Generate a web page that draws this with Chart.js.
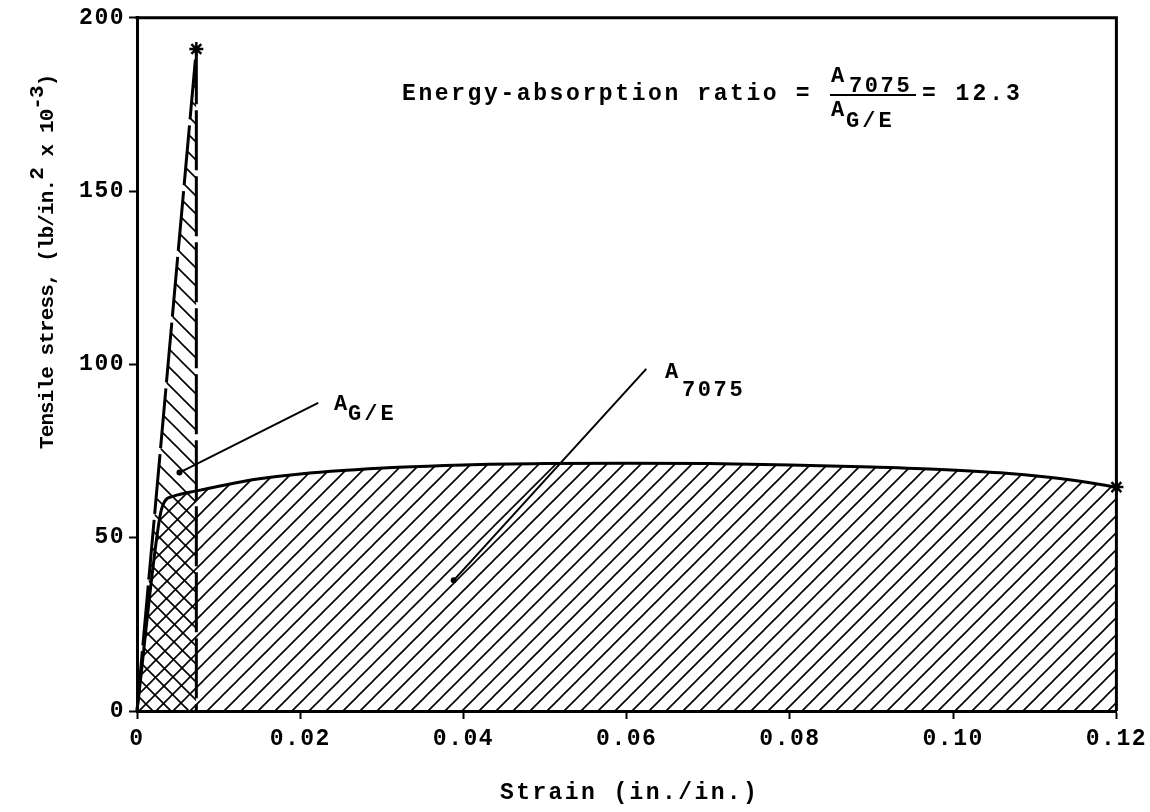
<!DOCTYPE html>
<html>
<head>
<meta charset="utf-8">
<script src="https://cdn.jsdelivr.net/npm/chart.js@4.4.0/dist/chart.umd.min.js"></script>
<style>
    html, body { margin: 0; padding: 0; background: #fff; }
</style>
</head>
<body>
<canvas id="chartStrain" width="1150" height="812"></canvas>
<script>
const xTicks = [0, 0.02, 0.04, 0.06, 0.08, 0.10, 0.12];
const xTickLabels = ['0', '0.02', '0.04', '0.06', '0.08', '0.10', '0.12'];
const yTicks = [0, 50, 100, 150, 200];
const yTickLabels = ['0', '50', '100', '150', '200'];

// aluminium 7075 curve
const strain7075 = [0, 0.0028, 0.0034, 0.0045, 0.0073, 0.012, 0.015, 0.02, 0.032, 0.04, 0.05, 0.06, 0.07, 0.08, 0.09, 0.0985, 0.1065, 0.1147, 0.12];
const stress7075 = [0, 56, 60.5, 62, 63.5, 65.8, 67.0, 68.4, 70.3, 71.0, 71.4, 71.5, 71.4, 71.0, 70.4, 69.7, 68.6, 66.6, 64.6];

// graphite/epoxy
const strainGE = [0, 0.00727, 0.00727];
const stressGE = [0, 191, 0];

const FONT = '"Liberation Mono", "DejaVu Sans Mono", monospace';

function makeHatch(size, dir) {
    const c = document.createElement('canvas');
    c.width = size;
    c.height = size;
    const g = c.getContext('2d');
    g.strokeStyle = '#000';
    g.lineWidth = 1.6;
    g.beginPath();
    if (dir > 0) {
        g.moveTo(-2, size + 2); g.lineTo(size + 2, -2);
        g.moveTo(-2, 2); g.lineTo(2, -2);
        g.moveTo(size - 2, size + 2); g.lineTo(size + 2, size - 2);
    } else {
        g.moveTo(-2, -2); g.lineTo(size + 2, size + 2);
        g.moveTo(size - 2, -2); g.lineTo(size + 2, 2);
        g.moveTo(-2, size - 2); g.lineTo(2, size + 2);
    }
    g.stroke();
    return g.createPattern(c, 'repeat');
}

function txt(ctx, s, x, y, size, spacing) {
    ctx.font = 'bold ' + size + 'px ' + FONT;
    ctx.letterSpacing = spacing + 'px';
    ctx.fillText(s, x, y);
}

const annotations = {
    id: 'annotations',
    beforeDraw(chart) {
        chart.ctx.letterSpacing = '1.5px';
    },
    afterDatasetsDraw(chart) {
        const ctx = chart.ctx;
        const xs = chart.scales.x, ys = chart.scales.y;
        const a = chart.chartArea;
        ctx.save();
        ctx.strokeStyle = '#000';
        ctx.fillStyle = '#000';

        // top and right frame
        ctx.lineWidth = 3;
        ctx.beginPath();
        ctx.moveTo(a.left - 1.5, a.top);
        ctx.lineTo(a.right, a.top);
        ctx.lineTo(a.right, a.bottom);
        ctx.stroke();

        // leader lines
        ctx.lineWidth = 2;
        const leaders = [
            [0.0222, 88.9, 0.0052, 68.8],
            [0.0624, 98.7, 0.0388, 37.7]
        ];
        leaders.forEach(l => {
            const x1 = xs.getPixelForValue(l[0]), y1 = ys.getPixelForValue(l[1]);
            const x2 = xs.getPixelForValue(l[2]), y2 = ys.getPixelForValue(l[3]);
            ctx.beginPath();
            ctx.moveTo(x1, y1);
            ctx.lineTo(x2, y2);
            ctx.stroke();
            ctx.beginPath();
            ctx.arc(x2, y2, 3, 0, Math.PI * 2);
            ctx.fill();
        });

        ctx.textAlign = 'left';
        ctx.textBaseline = 'alphabetic';

        // area labels
        txt(ctx, 'A', 334, 410, 22, 2);
        txt(ctx, 'G/E', 348, 420, 22, 3);
        txt(ctx, 'A', 665, 378, 22, 2);
        txt(ctx, '7075', 682, 396, 22, 2.6);

        // energy ratio
        txt(ctx, 'Energy-absorption ratio =', 402, 100, 23, 2.6);
        txt(ctx, 'A', 831, 82, 22, 2);
        txt(ctx, '7075', 849, 92, 22, 2.6);
        ctx.lineWidth = 1.8;
        ctx.beginPath();
        ctx.moveTo(830, 95);
        ctx.lineTo(916, 95);
        ctx.stroke();
        txt(ctx, 'A', 831, 116, 22, 2);
        txt(ctx, 'G/E', 846, 127, 22, 3);
        txt(ctx, '= 12.3', 922, 100, 23, 3);

        // x title
        txt(ctx, 'Strain (in./in.)', 500, 799, 23, 2.4);

        // y title, typed sideways with raised exponents
        ctx.translate(53, 449);
        ctx.rotate(-Math.PI / 2);
        const parts = [
            ['Tensile stress, (lb/in.', 0],
            ['2', -10],
            [' x 10', 0],
            ['-3', -10],
            [')', 0]
        ];
        let u = 0;
        ctx.font = 'bold 21px ' + FONT;
        ctx.letterSpacing = '-0.9px';
        parts.forEach(p => {
            ctx.fillText(p[0], u, p[1]);
            u += ctx.measureText(p[0]).width;
        });
        ctx.restore();
    }
};

function renderStrainChart() {
    const hatch7075 = makeHatch(17, 1);
    const hatchGE = makeHatch(18, -1);

    const data = {
        datasets: [{
            label: '7075',
            data: strain7075.map((x, i) => ({ x: x, y: stress7075[i] })),
            borderColor: '#000',
            borderWidth: 3,
            backgroundColor: hatch7075,
            fill: 'origin',
            cubicInterpolationMode: 'monotone',
            pointStyle: 'star',
            pointRadius: strain7075.map((x, i) => i === strain7075.length - 1 ? 7 : 0),
            pointBorderColor: '#000',
            pointBorderWidth: 2.5,
            clip: false
        }, {
            label: 'G/E',
            data: strainGE.map((x, i) => ({ x: x, y: stressGE[i] })),
            borderColor: '#000',
            borderWidth: 3,
            borderDash: [60, 6],
            backgroundColor: hatchGE,
            fill: 'origin',
            tension: 0,
            pointStyle: 'star',
            pointRadius: [0, 7, 0],
            pointBorderColor: '#000',
            pointBorderWidth: 2.5,
            clip: false
        }]
    };

    const config = {
        type: 'line',
        data: data,
        options: {
            responsive: false,
            animation: false,
            devicePixelRatio: 1,
            layout: {
                padding: { top: 15, right: 23, left: 0, bottom: 0 }
            },
            scales: {
                x: {
                    type: 'linear',
                    min: 0,
                    max: 0.12,
                    afterFit: (scale) => { scale.height = 101; },
                    afterBuildTicks: (scale) => { scale.ticks = xTicks.map(v => ({ value: v })); },
                    grid: {
                        drawOnChartArea: false,
                        drawTicks: true,
                        tickLength: 8,
                        tickWidth: 2,
                        tickColor: '#000'
                    },
                    border: { display: true, color: '#000', width: 3 },
                    ticks: {
                        color: '#000',
                        padding: 6,
                        maxRotation: 0,
                        autoSkip: false,
                        font: { family: FONT, size: 23, weight: 'bold' },
                        callback: (v, i) => xTickLabels[i]
                    }
                },
                y: {
                    min: 0,
                    max: 200,
                    afterFit: (scale) => { scale.width = 137; },
                    afterBuildTicks: (scale) => { scale.ticks = yTicks.map(v => ({ value: v })); },
                    grid: {
                        drawOnChartArea: false,
                        drawTicks: true,
                        tickLength: 8,
                        tickWidth: 2,
                        tickColor: '#000'
                    },
                    border: { display: true, color: '#000', width: 3 },
                    ticks: {
                        color: '#000',
                        padding: 4,
                        autoSkip: false,
                        font: { family: FONT, size: 23, weight: 'bold' },
                        callback: (v, i) => yTickLabels[i]
                    }
                }
            },
            plugins: {
                legend: { display: false },
                tooltip: { enabled: false }
            }
        },
        plugins: [annotations]
    };

    var myChart = new Chart(
        document.getElementById('chartStrain'),
        config
    );
}

renderStrainChart();
</script>
</body>
</html>
